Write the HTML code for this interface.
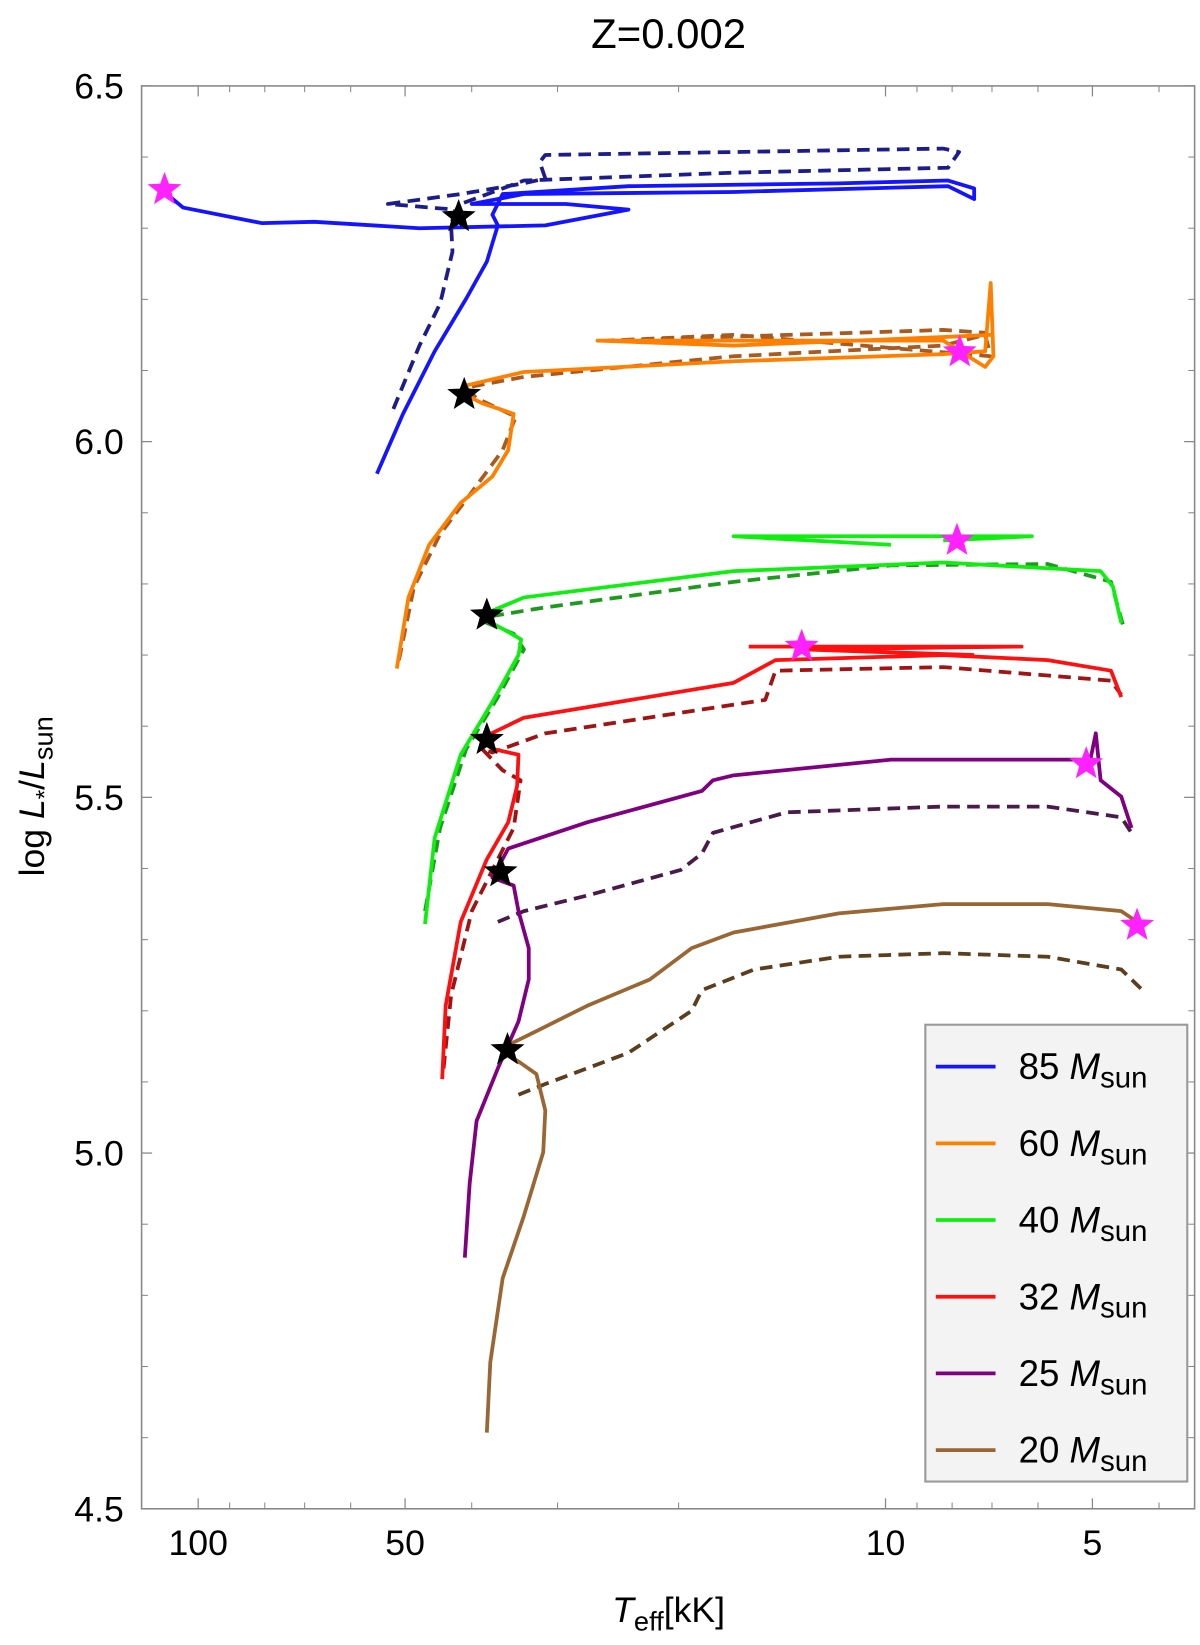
<!DOCTYPE html>
<html><head><meta charset="utf-8"><style>
html,body{margin:0;padding:0;background:#fff;}
svg{display:block;font-family:"Liberation Sans",sans-serif;}
</style></head><body>
<svg id="chart" width="1200" height="1645" viewBox="0 0 1145 1570" xmlns="http://www.w3.org/2000/svg">
<text x="638" y="46" font-size="40" text-anchor="middle">Z=0.002</text>
<g id="plot"></g>
<text transform="translate(42,760) rotate(-90)" font-size="34" text-anchor="middle">log <tspan font-style="italic">L</tspan><tspan font-size="23" dy="8">*</tspan><tspan dy="-8">/</tspan><tspan font-style="italic">L</tspan><tspan font-size="26" dy="8">sun</tspan></text>
<text x="638" y="1548" font-size="34" text-anchor="middle"><tspan font-style="italic">T</tspan><tspan font-size="26" dy="8">eff</tspan><tspan dy="-8">[kK]</tspan></text>
<g id="legend"></g>
</svg>
<script>
// log10(Teff/kK), log L
const xTickValues=[100,50,10,5];
const xTickLabels=["100","50","10","5"];
const xMinorValues=[90,80,70,60,40,30,20,9,8,7,6,4];
const yTickValues=[4.5,5.0,5.5,6.0,6.5];
const yTickLabels=["4.5","5.0","5.5","6.0","6.5"];
const massLabels=["85","60","40","32","25","20"];

const m85Solid=[[1.740,5.955],[1.702,6.039],[1.656,6.127],[1.610,6.201],[1.580,6.253],[1.564,6.304],[1.572,6.319],[1.557,6.348],[1.374,6.359],[1.068,6.363],[0.909,6.367],[0.871,6.356],[0.871,6.341],[0.909,6.359],[1.221,6.351],[1.526,6.348],[1.602,6.334],[1.465,6.334],[1.374,6.326],[1.495,6.304],[1.678,6.300],[1.831,6.309],[1.907,6.307],[2.022,6.329],[2.052,6.353]];
const m85Dashed=[[1.716,6.046],[1.678,6.135],[1.648,6.194],[1.630,6.267],[1.632,6.304],[1.626,6.326],[1.724,6.334],[1.618,6.348],[1.526,6.363],[1.495,6.370],[1.503,6.393],[1.495,6.403],[1.221,6.407],[0.916,6.412],[0.893,6.407],[0.909,6.385],[1.221,6.378],[1.526,6.367],[1.618,6.334]];
const m60Solid=[[1.711,5.681],[1.694,5.781],[1.664,5.855],[1.618,5.914],[1.572,5.951],[1.549,5.988],[1.541,6.039],[1.587,6.054],[1.618,6.069],[1.610,6.079],[1.526,6.098],[1.221,6.113],[0.916,6.123],[0.855,6.127],[0.847,6.223],[0.843,6.120],[0.855,6.105],[0.916,6.142],[1.419,6.142],[1.221,6.135],[0.916,6.147],[0.847,6.150]];
const m60Dashed=[[1.708,5.693],[1.686,5.796],[1.648,5.870],[1.602,5.929],[1.557,5.988],[1.538,6.035],[1.595,6.061],[1.610,6.076],[1.526,6.091],[1.221,6.120],[0.916,6.135],[0.855,6.150],[0.847,6.120],[1.221,6.150],[1.404,6.142],[0.916,6.157],[0.855,6.153]];
const m40Solid=[[1.670,5.322],[1.656,5.443],[1.618,5.560],[1.572,5.634],[1.534,5.700],[1.530,5.722],[1.557,5.737],[1.587,5.752],[1.580,5.759],[1.526,5.781],[1.221,5.818],[0.916,5.830],[0.687,5.818],[0.669,5.796],[0.657,5.745]];
const m40Loop=[[0.992,5.855],[1.221,5.867],[0.787,5.867],[0.916,5.861]];
const m40Dashed=[[1.670,5.340],[1.648,5.457],[1.610,5.568],[1.564,5.641],[1.526,5.708],[1.541,5.730],[1.580,5.745],[1.572,5.755],[1.495,5.767],[1.221,5.803],[0.992,5.826],[0.764,5.828],[0.672,5.803],[0.654,5.740]];
const m32Solid=[[1.645,5.104],[1.640,5.207],[1.618,5.325],[1.580,5.413],[1.549,5.465],[1.536,5.516],[1.534,5.560],[1.572,5.568],[1.584,5.585],[1.526,5.612],[1.221,5.661],[1.160,5.693],[0.916,5.700],[0.764,5.693],[0.672,5.678],[0.657,5.641]];
const m32Loop=[[1.199,5.712],[0.802,5.712],[1.122,5.708],[0.871,5.700]];
const m32Dashed=[[1.643,5.119],[1.632,5.222],[1.602,5.340],[1.564,5.413],[1.541,5.457],[1.531,5.524],[1.557,5.538],[1.587,5.568],[1.572,5.563],[1.495,5.590],[1.175,5.637],[1.160,5.678],[0.916,5.683],[0.672,5.664],[0.657,5.644]];
const m25Solid=[[1.612,4.853],[1.605,4.957],[1.595,5.045],[1.564,5.119],[1.534,5.185],[1.519,5.244],[1.519,5.288],[1.534,5.340],[1.541,5.376],[1.572,5.387],[1.549,5.428],[1.434,5.465],[1.267,5.509],[1.251,5.524],[1.221,5.531],[0.992,5.553],[0.764,5.553],[0.702,5.553],[0.694,5.590],[0.687,5.524],[0.657,5.501],[0.642,5.457]];
const m25Dashed=[[1.564,5.325],[1.526,5.340],[1.434,5.362],[1.298,5.398],[1.267,5.421],[1.251,5.450],[1.144,5.479],[0.916,5.487],[0.764,5.487],[0.657,5.472],[0.642,5.450]];
const m20Solid=[[1.580,4.607],[1.575,4.706],[1.557,4.824],[1.526,4.912],[1.498,5.001],[1.495,5.060],[1.508,5.111],[1.530,5.126],[1.541,5.133],[1.557,5.148],[1.511,5.170],[1.434,5.207],[1.343,5.244],[1.282,5.288],[1.221,5.310],[1.068,5.337],[0.916,5.350],[0.764,5.350],[0.657,5.340],[0.634,5.325]];
const m20Dashed=[[1.534,5.082],[1.495,5.097],[1.374,5.141],[1.282,5.200],[1.267,5.229],[1.191,5.258],[1.068,5.276],[0.916,5.281],[0.764,5.276],[0.657,5.258],[0.622,5.225]];
const blackStars=[[1.621,6.316],[1.613,6.066],[1.580,5.756],[1.580,5.581],[1.560,5.395],[1.550,5.145]];
const magentaStars=[[2.049,6.354],[0.892,6.126],[0.896,5.861],[1.122,5.712],[0.708,5.547],[0.634,5.320]];

const NS="http://www.w3.org/2000/svg";
const L=135,R=1140,T=82,B=1440;
function X(lt){return 189+(2-lt)*656;}
function Y(l){return T+(6.5-l)*679;}
const plot=document.getElementById('plot');
function mk(tag,attrs,parent){const e=document.createElementNS(NS,tag);for(const k in attrs)e.setAttribute(k,attrs[k]);(parent||plot).appendChild(e);return e;}

const frame=mk('rect',{x:L,y:T,width:R-L,height:B-T,fill:'none',stroke:'#888','stroke-width':1.5});



yTickValues.forEach((v,i)=>{
  const y=Y(v);
  const t=mk('line',{x1:L,x2:L+10,y1:y,y2:y,stroke:'#888','stroke-width':1.2});
  
  
  const t2=mk('line',{x1:R,x2:R-10,y1:y,y2:y,stroke:'#888','stroke-width':1.2});
  
  
  const lb=mk('text',{x:L-17,y:y+12,'font-size':34,'text-anchor':'end'});
  lb.textContent=yTickLabels[i];
  
  
});
for(let k=46;k<=64;k++){
  if(k%5===0)continue;
  const y=Y(k/10);
  const t=mk('line',{x1:L,x2:L+6,y1:y,y2:y,stroke:'#888','stroke-width':1});
  
  
  const t2=mk('line',{x1:R,x2:R-6,y1:y,y2:y,stroke:'#888','stroke-width':1});
  
  
}
xTickValues.forEach((v,i)=>{
  const x=X(Math.log10(v));
  const t=mk('line',{x1:x,x2:x,y1:B,y2:B-10,stroke:'#888','stroke-width':1.2});
  
  
  const t2=mk('line',{x1:x,x2:x,y1:T,y2:T+10,stroke:'#888','stroke-width':1.2});
  
  
  const lb=mk('text',{x:x,y:B+44,'font-size':34,'text-anchor':'middle'});
  lb.textContent=xTickLabels[i];
  
  
});
xMinorValues.forEach(v=>{
  const x=X(Math.log10(v));
  const t=mk('line',{x1:x,x2:x,y1:B,y2:B-6,stroke:'#888','stroke-width':1});
  
  
  const t2=mk('line',{x1:x,x2:x,y1:T,y2:T+6,stroke:'#888','stroke-width':1});
  
  
});

function track(data,color,dashed,name){
  const d=data.map((p,i)=>(i?'L':'M')+X(p[0]).toFixed(1)+','+Y(p[1]).toFixed(1)).join('');
  const a={d:d,fill:'none',stroke:color,'stroke-width':3.6,'stroke-linejoin':'round','stroke-linecap':'butt'};
  if(dashed)a['stroke-dasharray']='12,7';
  const e=mk('path',a);
  
  
}
const cols=[['#1414ff','#1c1c8c'],['#ff8000','#a85a20'],['#10ee10','#1e9a1e'],['#ff1010','#a01414'],['#800080','#4a1a4a'],['#9a6633','#5c3d1c']];
track(m85Dashed,cols[0][1],true,'track-85-dashed');
track(m85Solid,cols[0][0],false,'track-85-solid');
track(m60Dashed,cols[1][1],true,'track-60-dashed');
track(m60Solid,cols[1][0],false,'track-60-solid');
track(m40Dashed,cols[2][1],true,'track-40-dashed');
track(m40Solid,cols[2][0],false,'track-40-solid');
track(m40Loop,cols[2][0],false,'track-40-loop');
track(m32Dashed,cols[3][1],true,'track-32-dashed');
track(m32Solid,cols[3][0],false,'track-32-solid');
track(m32Loop,cols[3][0],false,'track-32-loop');
track(m25Dashed,cols[4][1],true,'track-25-dashed');
track(m25Solid,cols[4][0],false,'track-25-solid');
track(m20Dashed,cols[5][1],true,'track-20-dashed');
track(m20Solid,cols[5][0],false,'track-20-solid');

function starPts(cx,cy,r){
  const pts=[];
  for(let i=0;i<10;i++){const rr=i%2?r*0.42:r;const a=-Math.PI/2+i*Math.PI/5;pts.push((cx+rr*Math.cos(a)).toFixed(1)+','+(cy+rr*Math.sin(a)).toFixed(1));}
  return pts.join(' ');
}
blackStars.forEach(p=>{
  const s=mk('polygon',{points:starPts(X(p[0]),Y(p[1]),17),fill:'#000'});
  
  
});
magentaStars.forEach(p=>{
  const s=mk('polygon',{points:starPts(X(p[0]),Y(p[1]),17),fill:'#ff22ff'});
  
  
});

const lg=document.getElementById('legend');
const box=mk('rect',{x:883,y:978,width:250,height:436,fill:'#f3f3f3',stroke:'#999','stroke-width':2},lg);


massLabels.forEach((m,i)=>{
  const y=1018+i*73.2;
  const ln=mk('line',{x1:893,x2:950,y1:y,y2:y,stroke:cols[i][0],'stroke-width':3.6},lg);
  
  
  const tx=mk('text',{x:972,y:y+12,'font-size':35},lg);
  
  
  tx.innerHTML=m+' <tspan font-style="italic">M</tspan><tspan font-size="28" dy="8">sun</tspan>';
});
</script>
</body></html>
